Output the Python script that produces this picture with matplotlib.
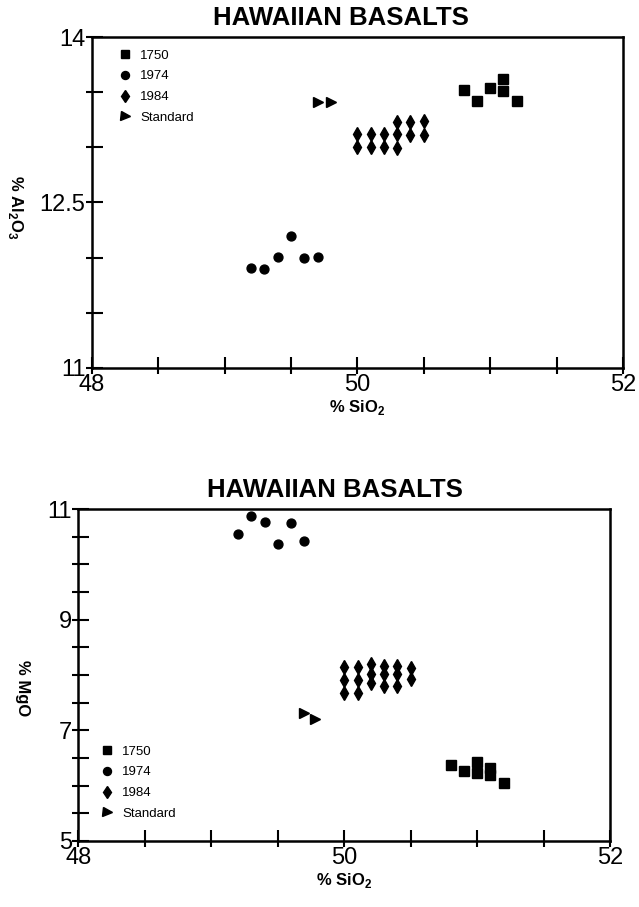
import matplotlib
matplotlib.use('Agg')
import matplotlib.pyplot as plt
from matplotlib.ticker import MultipleLocator

plt.rcParams['font.family'] = ['Liberation Sans', 'DejaVu Sans']
plt.rcParams['mathtext.fontset'] = 'custom'
plt.rcParams['mathtext.rm'] = 'Liberation Sans'
plt.rcParams['mathtext.bf'] = 'Liberation Sans:bold'

# データ (上: Al2O3 vs SiO2)
sq_x1 = [50.8, 50.9, 51.0, 51.1, 51.1, 51.2]
sq_y1 = [13.52, 13.42, 13.54, 13.62, 13.51, 13.42]
ci_x1 = [49.2, 49.3, 49.4, 49.5, 49.6, 49.7]
ci_y1 = [11.91, 11.90, 12.01, 12.20, 12.00, 12.01]
di_x1 = [50.0, 50.0, 50.1, 50.1, 50.2, 50.2, 50.3, 50.3, 50.3, 50.4, 50.4, 50.5, 50.5]
di_y1 = [13.12, 13.00, 13.12, 13.00, 13.12, 13.00, 13.23, 13.12, 12.99, 13.23, 13.11, 13.24, 13.11]
st_x1 = [49.7, 49.8]
st_y1 = [13.41, 13.41]

# データ (下: MgO vs SiO2)
sq_x2 = [50.8, 50.9, 51.0, 51.0, 51.1, 51.1, 51.2]
sq_y2 = [6.37, 6.26, 6.43, 6.23, 6.31, 6.20, 6.05]
ci_x2 = [49.2, 49.3, 49.4, 49.5, 49.6, 49.7]
ci_y2 = [10.55, 10.87, 10.77, 10.37, 10.74, 10.42]
di_x2 = [50.0, 50.0, 50.0, 50.1, 50.1, 50.1, 50.2, 50.2, 50.2,
         50.3, 50.3, 50.3, 50.4, 50.4, 50.4, 50.5, 50.5]
di_y2 = [8.15, 7.91, 7.67, 8.15, 7.91, 7.67, 8.20, 8.02, 7.85,
         8.16, 8.02, 7.80, 8.16, 8.02, 7.80, 8.12, 7.93]
st_x2 = [49.7, 49.78]
st_y2 = [7.32, 7.20]

series_labels = ['1750', '1974', '1984', 'Standard']
x_ticks = [48, 50, 52]
y_ticks1 = [11, 12.5, 14]
y_ticks2 = [5, 7, 9, 11]

fig = plt.figure(figsize=(6.39, 9.07), dpi=100)
ax1 = fig.add_axes([0.1435, 0.5943, 0.8315, 0.3649])
ax2 = fig.add_axes([0.1228, 0.0728, 0.8318, 0.366])


def style_axes(ax, xlim, ylim, xt, yt):
    ax.set_xlim(*xlim)
    ax.set_ylim(*ylim)
    for s in ax.spines.values():
        s.set_linewidth(1.8)
    # 主目盛り(内側)と補助目盛り(外側)を同じ位置に
    ax.xaxis.remove_overlapping_locs = False
    ax.yaxis.remove_overlapping_locs = False
    ax.xaxis.set_major_locator(MultipleLocator(0.5))
    ax.yaxis.set_major_locator(MultipleLocator(0.5))
    ax.xaxis.set_minor_locator(MultipleLocator(0.5))
    ax.yaxis.set_minor_locator(MultipleLocator(0.5))
    ax.xaxis.set_major_formatter(plt.FuncFormatter(
        lambda v, p: f'{v:g}' if any(abs(v - t) < 1e-6 for t in xt) else ''))
    ax.yaxis.set_major_formatter(plt.FuncFormatter(
        lambda v, p: f'{v:g}' if any(abs(v - t) < 1e-6 for t in yt) else ''))
    ax.tick_params(which='major', direction='in', length=7.9, width=1.5,
                   labelsize=17, pad=4.5, top=False, right=False)
    ax.tick_params(which='minor', direction='out', length=4.3, width=1.5,
                   top=False, right=False)


def draw(ax, sx, sy, cx, cy, dx, dy, tx, ty):
    ax.plot(sx, sy, 's', color='black', ms=6.8, label=series_labels[0])
    ax.plot(cx, cy, 'o', color='black', ms=6.4, label=series_labels[1])
    ax.plot(dx, dy, 'd', color='black', ms=6.8, label=series_labels[2])
    ax.plot(tx, ty, '>', color='black', ms=7.2, label=series_labels[3])


draw(ax1, sq_x1, sq_y1, ci_x1, ci_y1, di_x1, di_y1, st_x1, st_y1)
draw(ax2, sq_x2, sq_y2, ci_x2, ci_y2, di_x2, di_y2, st_x2, st_y2)

style_axes(ax1, (48, 52), (11, 14), x_ticks, y_ticks1)
style_axes(ax2, (48, 52), (5, 11), x_ticks, y_ticks2)

# 凡例
leg_kw = dict(frameon=False, fontsize=9.5, borderpad=0, borderaxespad=0,
              handlelength=1.0, handletextpad=0.64, labelspacing=0.65,
              numpoints=1, markerscale=0.9)
ax1.legend(loc='upper left', bbox_to_anchor=(0.0503, 0.9625), **leg_kw)
ax2.legend(loc='upper left', bbox_to_anchor=(0.0412, 0.288), **leg_kw)

# タイトル
fig.text(341 / 639, 1 - 18 / 907, 'HAWAIIAN BASALTS', ha='center', va='center',
         fontsize=18.5, fontweight='bold')
fig.text(335 / 639, 1 - 490 / 907, 'HAWAIIAN BASALTS', ha='center', va='center',
         fontsize=18.5, fontweight='bold')

# 軸ラベル
for ax, yl, ly, lx, lyy in [(ax1, '% Al$_\\mathbf{2}$O$_\\mathbf{3}$', -0.118, -0.144, 0.486),
                            (ax2, '% MgO', -0.118, -0.106, 0.461)]:
    ax.set_xlabel('% SiO$_\\mathbf{2}$', fontsize=12, fontweight='bold', va='center')
    ax.xaxis.set_label_coords(0.5, ly)
    ax.set_ylabel(yl, fontsize=12, fontweight='bold', rotation=270, va='center')
    ax.yaxis.set_label_coords(lx, lyy)

plt.savefig('out.png', dpi=100)
